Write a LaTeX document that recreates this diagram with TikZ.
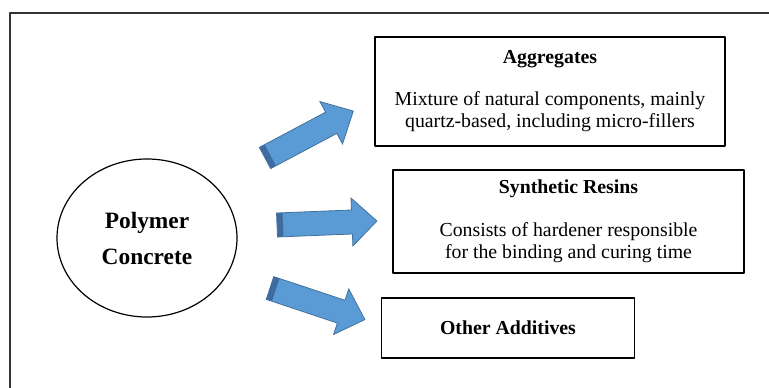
\documentclass[tikz,border=0pt]{standalone}
\usepackage{fontspec}
\setmainfont{Liberation Serif}
\usetikzlibrary{shapes.geometric}
\definecolor{arrowblue}{RGB}{91,155,213}
\definecolor{arrowline}{RGB}{65,113,156}
\definecolor{arrowdark}{RGB}{62,106,160}
\tikzset{
	infobox/.style={draw=black,line width=1.6pt,align=center,inner sep=0pt,
		font=\fontsize{19.8}{22}\selectfont}
}
% block arrow: #1 tail coordinate, #2 angle
\newcommand{\blockarrow}[2]{%
	\begin{scope}[shift={(#1)},rotate=#2]
		\filldraw[fill=arrowblue,draw=arrowline,line width=0.8pt,line join=miter]
		(0,-12)--(75,-12)--(75,-24)--(100,0)--(75,24)--(75,12)--(0,12)--cycle;
		\fill[arrowdark] (0.4,-11.6) rectangle (6,11.6);
		\draw[arrowline,line width=0.8pt] (3.5,-12)--(3.5,12);
	\end{scope}}
\begin{document}
\begin{tikzpicture}[x=1pt,y=-1pt,line join=round]
	\useasboundingbox (0,0) rectangle (769,388);
	% outer frame
	\draw[line width=1.3pt,black!80] (10,388)--(10,13)--(769,13);
	\node[ellipse,draw,line width=1.2pt,minimum width=180pt,minimum height=158pt,
		align=center,font=\fontsize{23.4}{36}\selectfont\bfseries] (pc) at (147,238)
		{Polymer\\Concrete};
	\node[infobox,minimum width=350pt,minimum height=109pt] (agg) at (550,91.5)
		{\textbf{Aggregates}\\[20pt]Mixture of natural components, mainly\\quartz-based, including micro-fillers};
	\node[infobox,minimum width=351pt,minimum height=103pt] (syn) at (568.5,221.5)
		{\textbf{Synthetic Resins}\\[21pt]Consists of hardener responsible\\for the binding and curing time};
	\node[infobox,minimum width=253pt,minimum height=60pt] (oth) at (508,328)
		{\textbf{Other Additives}};
	\coordinate (t1) at (265,158);
	\coordinate (t2) at (277,225);
	\coordinate (t3) at (270,288);
	\blockarrow{t1}{28}
	\blockarrow{t2}{2.3}
	\blockarrow{t3}{-18.4}
\end{tikzpicture}
\end{document}
